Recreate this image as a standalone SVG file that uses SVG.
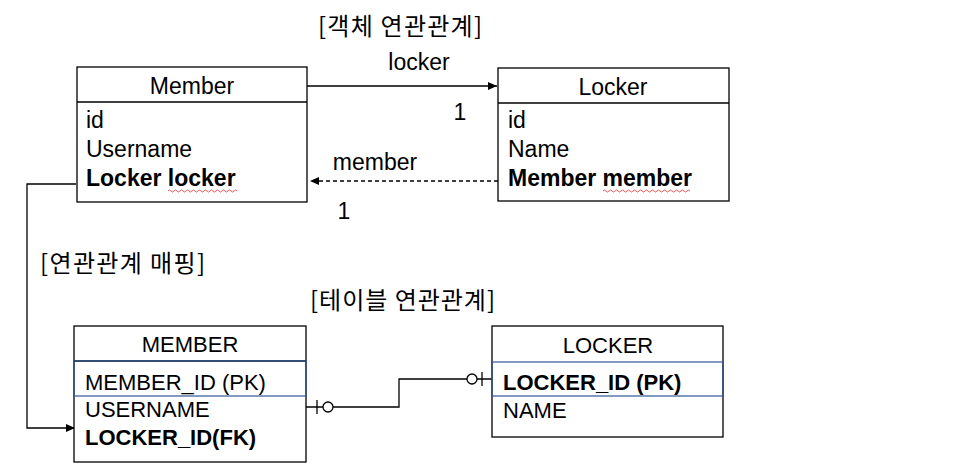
<svg xmlns="http://www.w3.org/2000/svg" width="969" height="475" viewBox="0 0 969 475">
<style>
text{font-family:"Liberation Sans","Noto Sans CJK KR",sans-serif;font-size:23px;fill:#000}
.k{font-family:"Noto Sans CJK KR",sans-serif;font-size:24px}
.t{font-size:22px}
.b{font-weight:bold}
.c{text-anchor:middle}
.box{fill:#fff;stroke:#000;stroke-width:1.3}
.ln{stroke:#000;stroke-width:1.3;fill:none}
.blue{stroke:#2f5597;stroke-width:1.2;fill:none}
.sq{stroke:#e03030;stroke-width:0.8;fill:none}
</style>
<defs>
<marker id="ah" markerWidth="10" markerHeight="8" refX="9" refY="4" orient="auto" markerUnits="userSpaceOnUse"><path d="M0,0 L9,4 L0,8 z" fill="#000"/></marker>
</defs>
<rect width="969" height="475" fill="#fff"/>
<text x="318" y="35" class="k" textLength="164" lengthAdjust="spacing">[객체 연관관계]</text>
<text x="40" y="272" class="k" textLength="165" lengthAdjust="spacing">[연관관계 매핑]</text>
<text x="310" y="309" class="k" textLength="185" lengthAdjust="spacing">[테이블 연관관계]</text>
<g id="connectors">
<line x1="307" y1="86" x2="497" y2="86" class="ln" marker-end="url(#ah)"/>
<text x="419" y="70" class="c">locker</text>
<text x="460" y="120" class="c">1</text>
<line x1="498" y1="181" x2="310" y2="181" class="ln" stroke-dasharray="4,3" stroke="#444" marker-end="url(#ah)"/>
<text x="375" y="170" class="c">member</text>
<text x="344" y="219" class="c">1</text>
<polyline points="76,184 27,184 27,428 75,428" class="ln" marker-end="url(#ah)"/>
<polyline points="306,407 399,407 399,379 492,379" class="ln"/>
<line x1="317" y1="400" x2="317" y2="414" class="ln"/>
<circle cx="328" cy="407" r="5" class="box"/>
<line x1="482" y1="372" x2="482" y2="386" class="ln"/>
<circle cx="472" cy="379" r="5" class="box"/>
</g>
<g id="member">
<rect x="77" y="67" width="230" height="135" class="box"/>
<line x1="77" y1="102" x2="307" y2="102" class="ln"/>
<text x="192" y="94" class="c">Member</text>
<text x="86" y="128">id</text>
<text x="86" y="157">Username</text>
<text x="86" y="186" class="b">Locker locker</text>
<path d="M168,191 q1.5,-2 3,0 t3,0 t3,0 t3,0 t3,0 t3,0 t3,0 t3,0 t3,0 t3,0 t3,0 t3,0 t3,0 t3,0 t3,0 t3,0 t3,0 t3,0 t3,0 t3,0 t3,0 t3,0 t3,0" class="sq"/>
</g>
<g id="locker">
<rect x="498" y="68" width="231" height="133" class="box"/>
<line x1="498" y1="103" x2="729" y2="103" class="ln"/>
<text x="613" y="95" class="c">Locker</text>
<text x="508" y="128">id</text>
<text x="508" y="157">Name</text>
<text x="508" y="186" class="b">Member member</text>
<path d="M603,191 q1.5,-2 3,0 t3,0 t3,0 t3,0 t3,0 t3,0 t3,0 t3,0 t3,0 t3,0 t3,0 t3,0 t3,0 t3,0 t3,0 t3,0 t3,0 t3,0 t3,0 t3,0 t3,0 t3,0 t3,0 t3,0 t3,0 t3,0 t3,0 t3,0 t3,0" class="sq"/>
</g>
<g id="MEMBER">
<rect x="74" y="326" width="232" height="136" class="box"/>
<line x1="74" y1="361" x2="306" y2="361" class="ln"/>
<rect x="74" y="361" width="232" height="35" class="blue"/>
<text x="190" y="352" class="c t">MEMBER</text>
<text x="85" y="390" class="t">MEMBER_ID (PK)</text>
<text x="85" y="417" class="t">USERNAME</text>
<text x="85" y="445" class="b t">LOCKER_ID(FK)</text>
</g>
<g id="LOCKER">
<rect x="492" y="326" width="231" height="111" class="box"/>
<rect x="492" y="362" width="231" height="34" class="blue"/>
<text x="608" y="353" class="c t">LOCKER</text>
<text x="503" y="390" class="b t">LOCKER_ID (PK)</text>
<text x="503" y="418" class="t">NAME</text>
</g>
</svg>
